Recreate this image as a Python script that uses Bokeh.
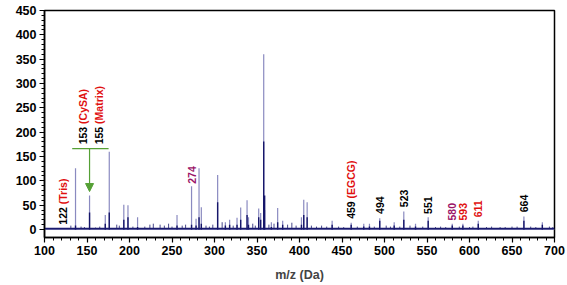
from bokeh.plotting import figure
from bokeh.models import Range1d, ColumnDataSource, Arrow, NormalHead, FixedTicker, Label
from bokeh.embed import file_html
from bokeh.resources import INLINE
from bokeh.core.properties import value

# ---- spectrum peaks (m/z, total intensity, dark core intensity) ----
peak_mz = [136.5, 153.0, 171.5, 176.2, 193.3, 198.2, 209.5, 255.9, 273.0, 278.3,
           281.8, 284.5, 303.7, 312.8, 317.8, 326.5, 330.8, 338.3, 340.0, 352.0,
           354.3, 357.9, 359.0, 366.9, 374.3, 380.2, 402.3, 405.0, 409.0, 438.4,
           460.8, 475.6, 482.3, 494.4, 511.4, 522.7, 536.5, 551.4, 579.7, 592.2,
           610.3, 664.0, 685.7]
peak_total = [126, 70, 30, 160, 51, 50, 25, 30, 89, 22,
              126, 46, 112, 15, 20, 24, 45, 60, 25, 43,
              34, 360, 40, 15, 44, 18, 25, 61, 56, 18,
              14, 12, 12, 23, 15, 37, 12, 25, 12, 12,
              18, 27, 15]
peak_core = [8, 35, 12, 35, 20, 25, 5, 8, 10, 8,
             25, 12, 56, 8, 10, 10, 20, 30, 10, 25,
             20, 181, 70, 5, 15, 10, 10, 30, 25, 10,
             10, 6, 6, 18, 8, 20, 6, 18, 8, 8,
             12, 18, 10]

# ---- small baseline peaks ----
noise_mz = [131, 143, 147, 160, 165, 185, 188, 204, 218, 224, 228, 236, 241, 246,
            250, 262, 266, 290, 294, 298, 309, 322, 345, 348, 364, 370, 386, 391,
            396, 414, 420, 426, 432, 446, 452, 468, 488, 502, 507, 518, 530, 545,
            560, 566, 572, 588, 600, 604, 620, 626, 636, 642, 650, 656, 672, 678,
            694, 698]
noise_int = [8, 6, 5, 4, 6, 10, 8, 6, 6, 10, 12, 10, 8, 12,
             6, 8, 10, 8, 6, 10, 15, 8, 12, 8, 10, 12, 10, 14,
             8, 8, 6, 8, 6, 6, 5, 6, 6, 8, 6, 6, 8, 6,
             5, 6, 5, 6, 5, 6, 5, 6, 5, 5, 6, 6, 6, 5,
             6, 5]

# ---- annotations ----
label_mz = [122, 145.2, 163.7, 273.0, 460.8, 494.4, 522.7, 551.4, 579.7, 592.2, 610.3, 664.0]
label_num = ["122", "153", "155", "274", "459", "494", "523", "551", "580", "593", "611", "664"]
label_name = ["(Tris)", "(CySA)", "(Matrix)", "", "(EGCG)", "", "", "", "", "", "", ""]
label_base = [10, 175, 175, 94, 22, 32, 46, 32, 18.5, 18.5, 25, 35.5]
PURPLE = "#9b1468"
RED = "#e01010"
num_color = ["black", "black", "black", PURPLE, "black", "black", "black", "black",
             PURPLE, RED, RED, "black"]

bracket_x = [132.6, 175.4]
bracket_y = 166
arrow_x = 153.0
arrow_tip = 78

x_ticks = list(range(100, 701, 50))
y_ticks = list(range(0, 451, 50))

FONT = "Liberation Sans"
Y0, Y1 = -16.4, 450
W_, H_ = 567, 285
BL, BR, BT, BB = 44, 13, 10, 48

p = figure(width=W_, height=H_, output_backend="svg", toolbar_location=None,
           x_range=Range1d(100, 700), y_range=Range1d(Y0, Y1),
           min_border_left=BL, min_border_right=BR, min_border_top=BT, min_border_bottom=BB)
p.xgrid.visible = False
p.ygrid.visible = False
p.outline_line_color = "black"
p.outline_line_width = 1.5
p.background_fill_color = "white"
p.border_fill_color = "white"

# spectrum
p.segment(x0=noise_mz, y0=[0] * len(noise_mz), x1=noise_mz, y1=noise_int,
          line_color="#1a1a6e", line_width=1, line_alpha=0.8)
p.segment(x0=[100], y0=[0], x1=[700], y1=[0], line_color="#9a9ac8", line_width=1)
p.segment(x0=[100], y0=[2], x1=[700], y1=[2], line_color="#1a1a6e", line_width=1.8)
p.segment(x0=peak_mz, y0=[0] * len(peak_mz), x1=peak_mz, y1=peak_total,
          line_color="#3c3c96", line_alpha=0.6, line_width=1.2)
p.segment(x0=peak_mz, y0=[0] * len(peak_mz), x1=peak_mz, y1=peak_core,
          line_color="#16166a", line_width=1.4)

# labels (rotated, two-coloured)
frame_h = H_ - BT - BB
px_per_unit = frame_h / (Y1 - Y0)
W = {"0": .556, "1": .556, "2": .556, "3": .556, "4": .556, "5": .556, "6": .556,
     "7": .556, "8": .556, "9": .556, " ": .278}
FS = 10.5
num_src = ColumnDataSource(dict(x=label_mz, y=label_base, t=label_num, c=num_color))
p.text(x="x", y="y", text="t", text_color="c", source=num_src, angle=1.5708,
       text_align="left", text_baseline="middle", text_font=value(FONT),
       text_font_size=f"{FS}px", text_font_style="bold")
nx, ny, nt = [], [], []
for x, y, num, name in zip(label_mz, label_base, label_num, label_name):
    if name:
        w = sum(W[ch] for ch in num + " ") * FS
        nx.append(x)
        ny.append(y + w / px_per_unit)
        nt.append(name)
p.text(x=nx, y=ny, text=nt, text_color=RED, angle=1.5708,
       text_align="left", text_baseline="middle", text_font=value(FONT),
       text_font_size=f"{FS}px", text_font_style="bold")

# bracket + arrow
GREEN = "#55a035"
p.segment(x0=[bracket_x[0]], y0=[bracket_y], x1=[bracket_x[1]], y1=[bracket_y],
          line_color=GREEN, line_width=1.2)
p.add_layout(Arrow(end=NormalHead(size=8, fill_color=GREEN, line_color=GREEN),
                   x_start=arrow_x, y_start=bracket_y, x_end=arrow_x, y_end=arrow_tip,
                   line_color=GREEN, line_width=1.2))

# small orange mark in the top-left corner of the original figure
p.add_layout(Label(x=-40, y=frame_h - 6, x_units="screen", y_units="screen", text="|",
                   text_color="#f07818", text_font=FONT, text_font_style="bold",
                   text_font_size="12px", text_baseline="middle"))

# axes
for ax in (p.xaxis[0], p.yaxis[0]):
    ax.axis_line_width = 1.5
    ax.major_tick_out = 5
    ax.major_tick_in = 0
    ax.minor_tick_out = 3
    ax.minor_tick_in = 0
    ax.major_tick_line_width = 1.2
    ax.major_label_text_font = FONT
    ax.major_label_text_font_style = "bold"
    ax.major_label_text_font_size = "12.5px"
    ax.major_label_text_color = "black"
    ax.major_label_standoff = 3
p.xaxis.ticker = FixedTicker(ticks=x_ticks, minor_ticks=list(range(100, 701, 10)))
p.yaxis.ticker = FixedTicker(ticks=y_ticks, minor_ticks=list(range(0, 451, 10)))
p.xaxis.axis_label = "m/z (Da)"
p.xaxis.axis_label_text_font = FONT
p.xaxis.axis_label_text_font_style = "bold"
p.xaxis.axis_label_text_font_size = "12.5px"
p.xaxis.axis_label_standoff = 10

open("out.html", "w").write(file_html(p, INLINE))
